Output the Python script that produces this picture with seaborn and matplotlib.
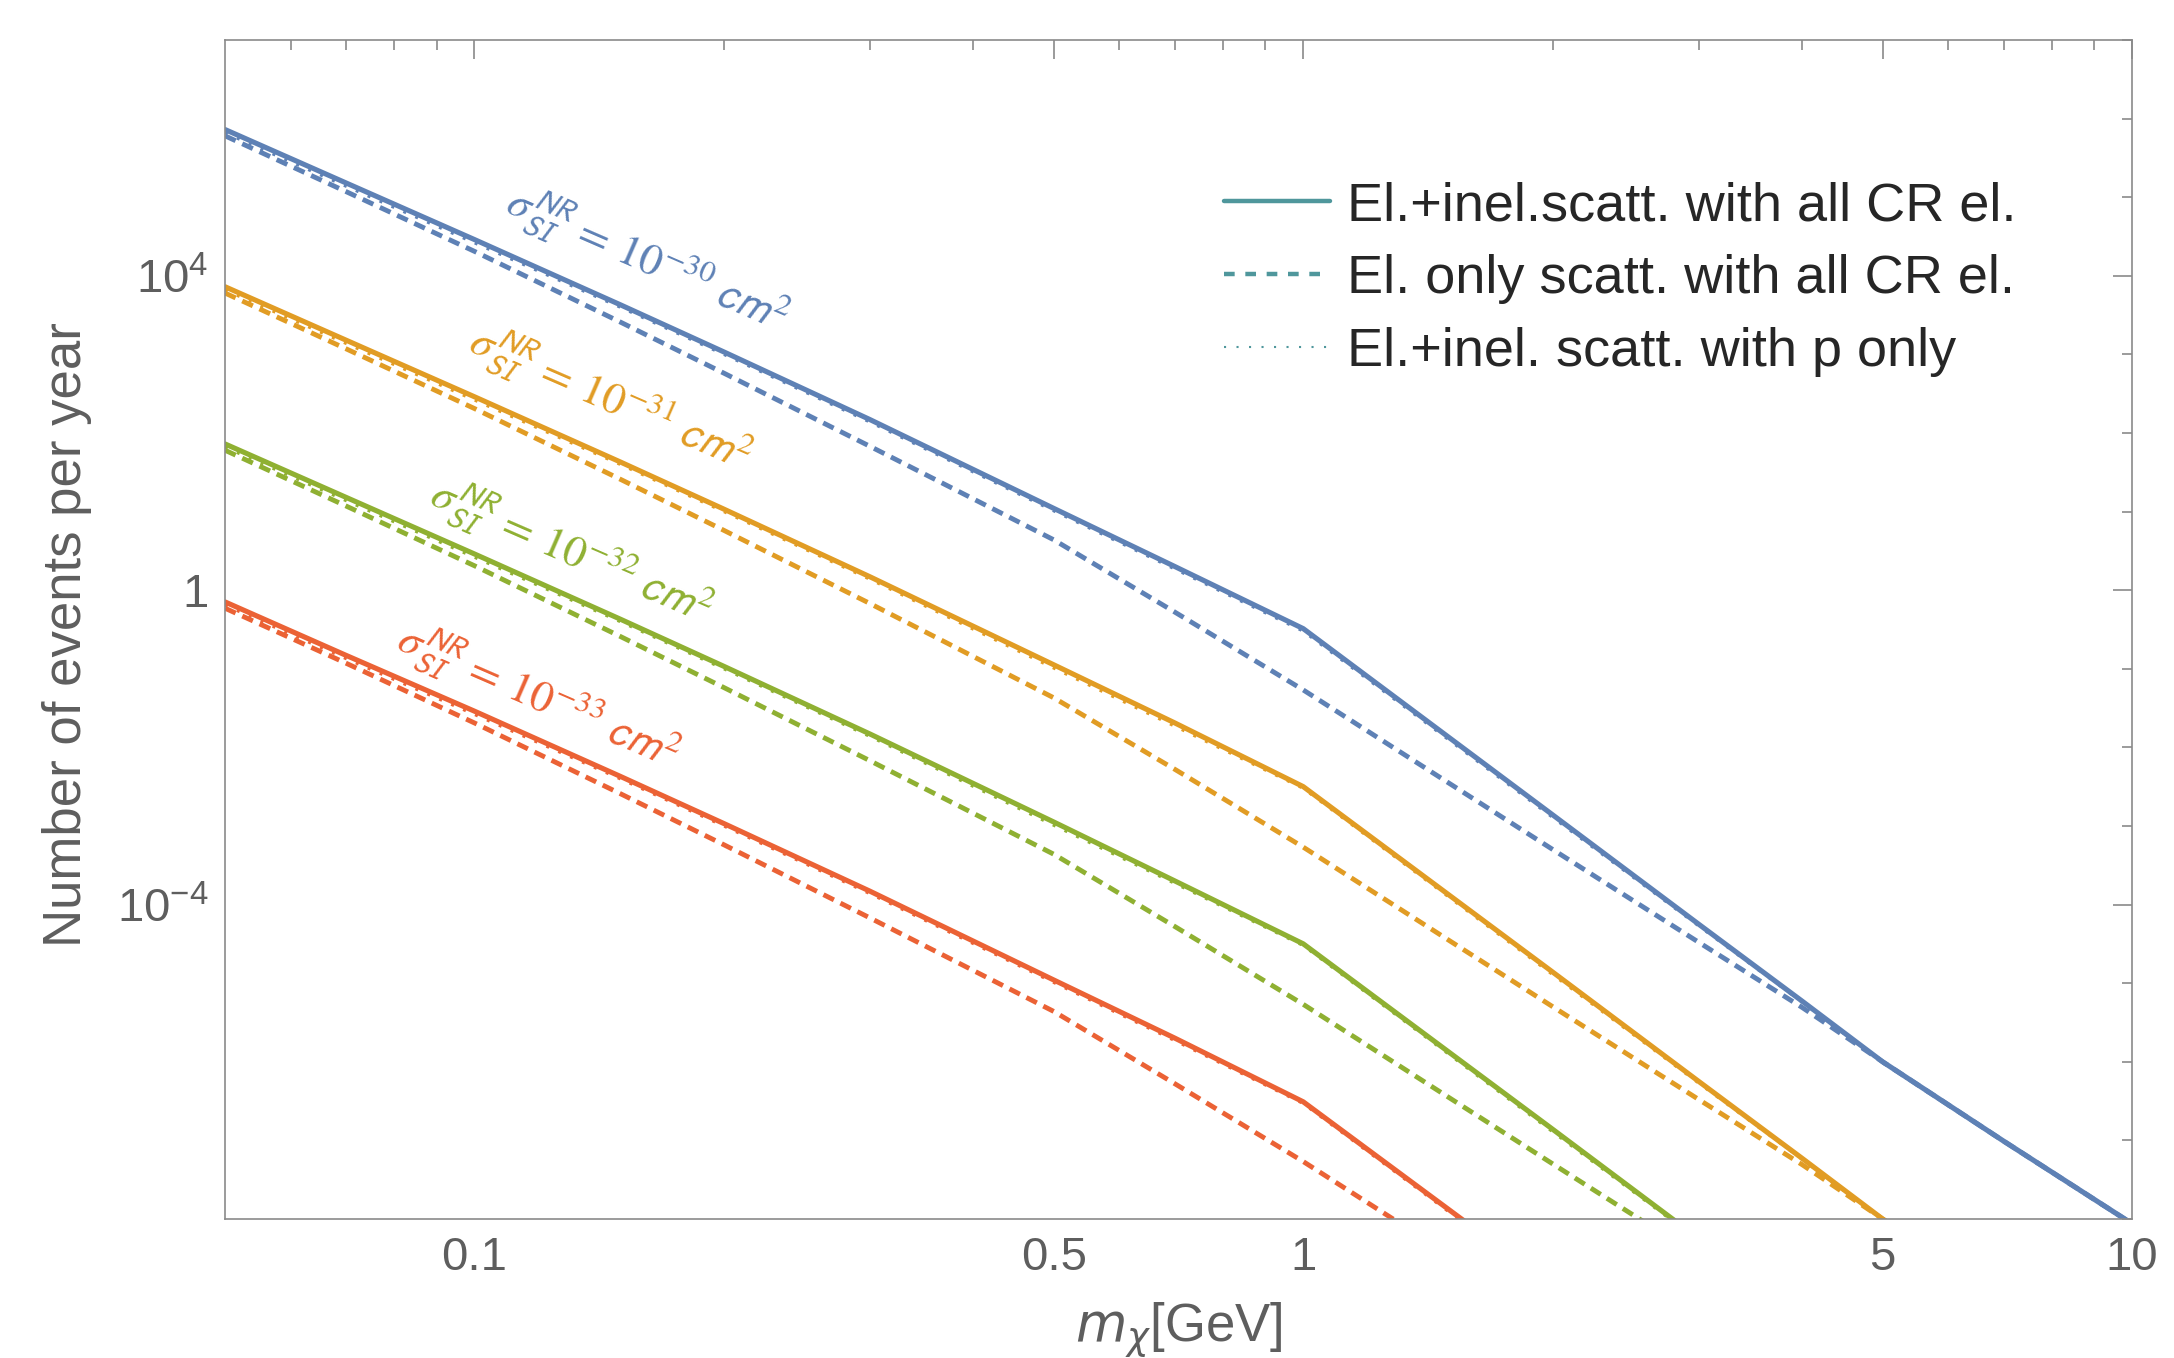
import numpy as np
import pandas as pd
import matplotlib
matplotlib.use('Agg')
import matplotlib.pyplot as plt
import seaborn as sns
from matplotlib.lines import Line2D
from matplotlib.ticker import FixedLocator, NullFormatter

# dark matter mass [GeV]
mass = [0.05, 0.07, 0.1, 0.15, 0.2, 0.3, 0.5, 0.7, 1, 2, 3, 4, 5, 7, 10]

# log10(events per year)
# sigma = 1e-30 cm^2
blue_all = [5.86, 5.18, 4.46, 3.63, 3.03, 2.17, 1.04, 0.30, -0.49, -2.86, -4.25, -5.23, -6.00, -7.01, -8.06]
blue_el = [5.78, 5.07, 4.31, 3.41, 2.76, 1.83, 0.64, -0.28, -1.27, -3.30, -4.48, -5.31, -6.00, -7.01, -8.06]
blue_p = [5.82, 5.14, 4.42, 3.60, 3.00, 2.14, 1.01, 0.27, -0.52, -2.89, -4.27, -5.24, -6.01, -7.02, -8.07]
# sigma = 1e-31 cm^2
orange_all = [3.86, 3.18, 2.46, 1.63, 1.03, 0.17, -0.95, -1.69, -2.50, -4.86, -6.25, -7.23, -8.00, -9.01, -10.06]
orange_el = [3.78, 3.07, 2.31, 1.41, 0.76, -0.17, -1.37, -2.28, -3.27, -5.30, -6.48, -7.31, -8.00, -9.01, -10.06]
orange_p = [3.82, 3.14, 2.42, 1.60, 1.00, 0.14, -0.99, -1.73, -2.52, -4.89, -6.27, -7.24, -8.01, -9.02, -10.07]
# sigma = 1e-32 cm^2
green_all = [1.86, 1.18, 0.46, -0.37, -0.97, -1.83, -2.95, -3.70, -4.50, -6.86, -8.25, -9.23, -10.00, -11.00, -12.06]
green_el = [1.78, 1.07, 0.31, -0.59, -1.24, -2.17, -3.36, -4.28, -5.27, -7.30, -8.48, -9.31, -10.00, -11.00, -12.06]
green_p = [1.82, 1.14, 0.42, -0.40, -1.00, -1.86, -2.99, -3.73, -4.52, -6.89, -8.27, -9.24, -10.01, -11.02, -12.07]
# sigma = 1e-33 cm^2
red_all = [-0.15, -0.83, -1.54, -2.37, -2.97, -3.83, -4.96, -5.70, -6.51, -8.86, -10.25, -11.20, -12.00, -13.00, -14.06]
red_el = [-0.23, -0.93, -1.69, -2.59, -3.24, -4.17, -5.36, -6.28, -7.27, -9.30, -10.50, -11.30, -12.00, -13.00, -14.06]
red_p = [-0.19, -0.87, -1.58, -2.40, -3.00, -3.86, -4.99, -5.73, -6.53, -8.89, -10.27, -11.24, -12.01, -13.02, -14.07]

sigma_exp = ['-30', '-31', '-32', '-33']
legend_labels = ['El.+inel.scatt. with all CR el.',
                 'El. only scatt. with all CR el.',
                 'El.+inel. scatt. with p only']

colors = ['#5E81B5', '#E19C24', '#8FB032', '#EB6235']
teal = '#4F979C'
grey = '#5e5e5e'

sns.set_theme(style='white')
plt.rcParams['font.family'] = ['Liberation Sans', 'DejaVu Sans']

fig = plt.figure(figsize=(21.74, 13.58), dpi=100)
ax = fig.add_axes([0.1035, 0.1024, 0.8772, 0.8682])

curves = [(blue_all, blue_el, blue_p), (orange_all, orange_el, orange_p),
          (green_all, green_el, green_p), (red_all, red_el, red_p)]

for (c_all, c_el, c_p), col in zip(curves, colors):
    df = pd.DataFrame({'m': mass,
                       'all': 10.0 ** np.array(c_all),
                       'el': 10.0 ** np.array(c_el),
                       'p': 10.0 ** np.array(c_p)})
    sns.lineplot(data=df, x='m', y='el', ax=ax, color=col, linewidth=3.5,
                 linestyle=(0, (2.4, 1.5)), estimator=None, sort=False)
    sns.lineplot(data=df, x='m', y='p', ax=ax, color=col, linewidth=2.4,
                 linestyle=(0, (0.9, 3.0)), estimator=None, sort=False)
    sns.lineplot(data=df, x='m', y='all', ax=ax, color=col, linewidth=3.7,
                 estimator=None, sort=False)

ax.set_xscale('log')
ax.set_yscale('log')
ax.set_xlim(0.05, 10)
ax.set_ylim(1e-8, 1e7)

ax.xaxis.set_major_locator(FixedLocator([0.1, 0.5, 1, 5, 10]))
ax.set_xticklabels(['0.1', '0.5', '1', '5', '10'])
ax.xaxis.set_minor_locator(FixedLocator([0.06, 0.07, 0.08, 0.09, 0.2, 0.3, 0.4, 0.6, 0.7,
                                         0.8, 0.9, 2, 3, 4, 6, 7, 8, 9]))
ax.xaxis.set_minor_formatter(NullFormatter())
ax.yaxis.set_major_locator(FixedLocator([1e-4, 1, 1e4]))
ax.set_yticklabels([r'$\mathdefault{10^{-4}}$', '1', r'$\mathdefault{10^{4}}$'])
ax.yaxis.set_minor_locator(FixedLocator([10.0 ** k for k in range(-8, 8) if k not in (-4, 0, 4)]))
ax.yaxis.set_minor_formatter(NullFormatter())

ax.tick_params(which='both', direction='in', top=True, right=True,
               color='#8a8a8a', labelcolor=grey, labelsize=34, pad=12)
ax.tick_params(which='major', length=14, width=1.2)
ax.tick_params(which='minor', length=7.5, width=1.2)
for s in ax.spines.values():
    s.set_color('#8a8a8a')
    s.set_linewidth(1.2)

ax.set_ylabel('Number of events per year', fontsize=38, color=grey)
ax.yaxis.set_label_coords(-0.070, 0.496)
ax.set_xlabel(r'$m_{\chi}$[GeV]', fontsize=38, color=grey, math_fontfamily='dejavusans')
ax.xaxis.set_label_coords(0.5, -0.070)

# curve labels
label_pos = [(0.2216, 0.8128), (0.2019, 0.6955), (0.1814, 0.5657), (0.1641, 0.4427)]
for (lx, ly), col, e in zip(label_pos, colors, sigma_exp):
    ax.text(lx, ly, r'$\sigma_{\mathsf{SI}}^{\mathsf{NR}}\,=\,10^{' + e + r'}\;\mathsf{cm}^{2}$',
            transform=ax.transAxes, color=col, fontsize=32, rotation=-23.5,
            ha='center', va='center', rotation_mode='anchor', math_fontfamily='stix')

handles = [Line2D([], [], color=teal, linewidth=3.2),
           Line2D([], [], color=teal, linewidth=3.2, linestyle=(0, (2.4, 2.4))),
           Line2D([], [], color=teal, linewidth=1.5, linestyle=(0, (1, 5)))]
ax.legend(handles, legend_labels, loc='upper left', bbox_to_anchor=(0.524, 0.880),
          frameon=False, borderpad=0, borderaxespad=0, handlelength=1.95,
          handletextpad=0.32, labelspacing=0.42,
          prop={'family': ['Liberation Sans Narrow', 'Liberation Sans'], 'size': 39})

fig.savefig('out.png', dpi=100)
